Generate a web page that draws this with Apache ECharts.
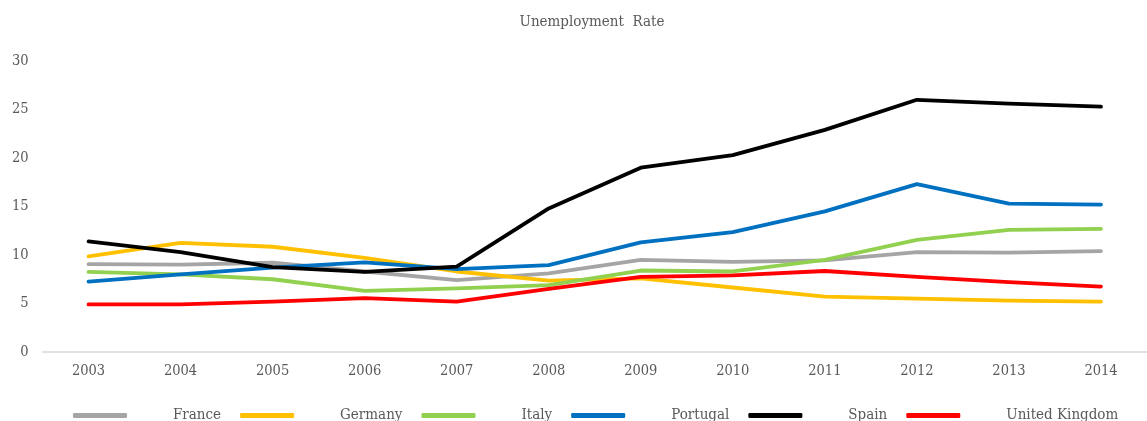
<!DOCTYPE html>
<html>
<head>
<meta charset="utf-8">
<script src="https://cdn.jsdelivr.net/npm/echarts@6/dist/echarts.min.js"></script>
<style>
  html, body { margin: 0; padding: 0; background: #ffffff; }
  #chart { width: 1147px; height: 421px; }
</style>
</head>
<body>
<div id="chart"></div>
<script>
// Unemployment rate (%) by country, 2003-2014
const years = ['2003', '2004', '2005', '2006', '2007', '2008', '2009', '2010', '2011', '2012', '2013', '2014'];
const france   = [9.05, 9.0, 9.2, 8.3, 7.4, 8.1, 9.5, 9.3, 9.45, 10.3, 10.25, 10.4];
const germany  = [9.85, 11.25, 10.85, 9.7, 8.3, 7.35, 7.6, 6.65, 5.7, 5.5, 5.3, 5.2];
const italy    = [8.25, 8.0, 7.5, 6.3, 6.55, 6.9, 8.4, 8.3, 9.5, 11.55, 12.6, 12.7];
const portugal = [7.25, 8.0, 8.7, 9.25, 8.55, 8.95, 11.3, 12.35, 14.5, 17.3, 15.3, 15.2];
const spain    = [11.4, 10.3, 8.75, 8.25, 8.8, 14.8, 19.0, 20.3, 22.9, 26.0, 25.6, 25.3];
const uk       = [4.9, 4.9, 5.2, 5.55, 5.2, 6.5, 7.75, 7.9, 8.35, 7.75, 7.2, 6.75];

const names  = ['France', 'Germany', 'Italy', 'Portugal', 'Spain', 'United Kingdom'];
const values = [france, germany, italy, portugal, spain, uk];
const colors = ['#A5A5A5', '#FFC000', '#92D050', '#0070C0', '#000000', '#FF0000'];

const serif = '"DejaVu Serif Condensed", "DejaVu Serif", "Liberation Serif", serif';
const textGray = '#595959';

const chart = echarts.init(document.getElementById('chart'), null, { renderer: 'canvas' });

chart.setOption({
  animation: false,
  color: colors,
  title: {
    text: 'Unemployment  Rate',
    left: 587,
    textAlign: 'center',
    top: 10,
    textStyle: { fontFamily: serif, fontSize: 15, fontWeight: 'normal', color: textGray }
  },
  legend: {
    data: names,
    left: 73,
    top: 408,
    padding: 0,
    itemGap: 19,
    itemWidth: 54,
    itemHeight: 5,
    icon: 'roundRect',
    textStyle: {
      fontFamily: serif, fontSize: 15, color: textGray,
      padding: [0, 0, 0, 41]
    }
  },
  grid: { left: 42.5, top: 61, width: 1117, height: 291, containLabel: false },
  xAxis: {
    type: 'category',
    data: years,
    boundaryGap: true,
    axisLine: { show: true, lineStyle: { color: '#D9D9D9', width: 1.5 } },
    axisTick: { show: false },
    axisLabel: { fontFamily: serif, fontSize: 14.5, color: textGray, margin: 12 }
  },
  yAxis: {
    type: 'value',
    min: 0,
    max: 30,
    interval: 5,
    splitLine: { show: false },
    axisLine: { show: false },
    axisTick: { show: false },
    axisLabel: { fontFamily: serif, fontSize: 14.5, color: textGray, margin: 14 }
  },
  series: names.map((n, i) => ({
    name: n,
    type: 'line',
    data: values[i],
    symbol: 'none',
    lineStyle: { width: 3.8, color: colors[i], cap: 'round', join: 'round' },
    itemStyle: { color: colors[i] }
  }))
});
</script>
</body>
</html>
